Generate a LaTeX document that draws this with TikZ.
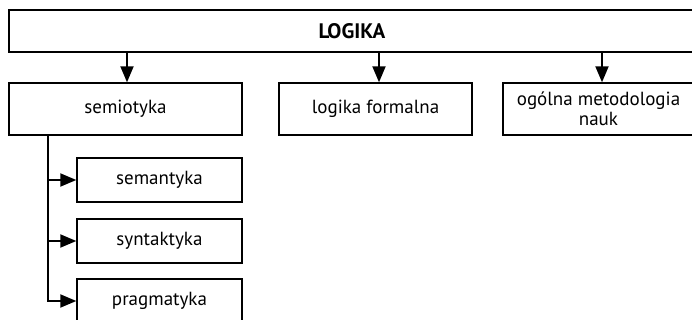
\documentclass[tikz,border=0pt]{standalone}
\usepackage{fontspec}
\setmainfont{PT Sans}
\usetikzlibrary{arrows.meta,calc}
\begin{document}
\begin{tikzpicture}[x=1pt,y=1pt,
  box/.style={draw,line width=1.4pt,inner sep=0pt,align=center,font=\fontsize{19}{20}\selectfont},
  arr/.style={line width=2pt,-{Triangle[length=16pt,width=13pt]}}]
\useasboundingbox (0,0) rectangle (692,-320);
\clip (0,0) rectangle (692,-320);
\node[box,line width=2.4pt,minimum width=691pt,minimum height=42pt,font=\fontsize{21}{24}\selectfont\bfseries] (top) at (354.5,-31) {\hspace*{-5pt}LOGIKA};
\node[box,minimum width=233pt,minimum height=52pt] (sem) at (125.5,-109) {semiotyka};
\node[box,minimum width=193pt,minimum height=52pt] (lf) at (375.5,-109) {logika formalna};
\node[box,minimum width=191pt,minimum height=52pt] (om) at (598.5,-109) {ogólna metodologia\\nauk};
\node[box,minimum width=165pt,minimum height=44pt] (sema) at (159.5,-180) {semantyka};
\node[box,minimum width=165pt,minimum height=44pt] (synt) at (159.5,-241) {syntaktyka};
\node[box,minimum width=165pt,minimum height=44pt] (prag) at (159.5,-301) {pragmatyka};
\draw[arr] (top.south -| 127,0) -- (sem.north -| 127,0);
\draw[arr] (top.south -| 379,0) -- (lf.north -| 379,0);
\draw[arr] (top.south -| 602,0) -- (om.north -| 602,0);
\coordinate (trunk) at (48,-135);
\draw[arr] (trunk) |- (prag.west);
\draw[arr] (trunk |- sema.west) -- (sema.west);
\draw[arr] (trunk |- synt.west) -- (synt.west);
\end{tikzpicture}
\end{document}
